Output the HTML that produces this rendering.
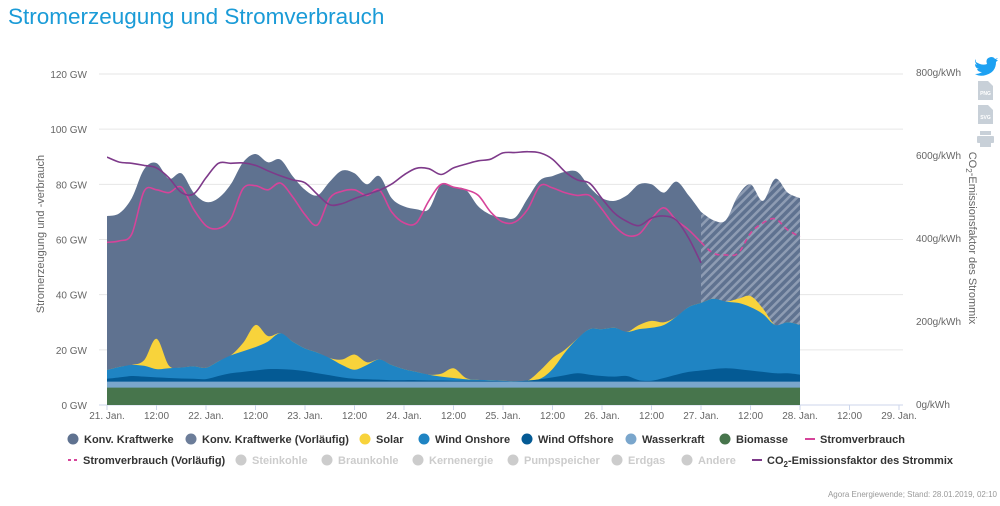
<!DOCTYPE html>
<html><head><meta charset="utf-8">
<style>
body{margin:0;background:#fff;font-family:"Liberation Sans",sans-serif;}
#wrap{position:relative;width:1000px;height:506px;overflow:hidden;}
svg text{font-family:"Liberation Sans",sans-serif;}
</style></head>
<body>
<div id="wrap">
<svg id="chart" width="1000" height="506" viewBox="0 0 1000 506">
<defs>
<pattern id="hatch" patternUnits="userSpaceOnUse" width="6" height="6" patternTransform="rotate(45)">
<rect width="6" height="6" fill="#5f7290"/>
<rect width="2.5" height="6" fill="#8e9cb3"/>
</pattern>
<clipPath id="plotclip"><rect x="107" y="60" width="800" height="345"/></clipPath>
</defs>
<text x="8" y="24" font-size="22.5" fill="#1a9bd7">Stromerzeugung und Stromverbrauch</text>
<g id="grid"></g>
<g id="areas" clip-path="url(#plotclip)"></g>
<g id="lines" clip-path="url(#plotclip)"></g>
<g id="axes"></g>
<text transform="translate(44,234) rotate(-90)" text-anchor="middle" font-size="11" fill="#666">Stromerzeugung und -verbrauch</text>
<text transform="translate(969,238) rotate(90)" text-anchor="middle" font-size="11" fill="#666">CO<tspan font-size="8" dy="3">2</tspan><tspan dy="-3">-Emissionsfaktor des Strommix</tspan></text>
<g><path d="M976 62 q6 4 11 2 q-2 -6 4 -7 q3 0 4 2 l3 -1 l-2 2 l2 0 l-2 2 q0 10 -10 13 q-6 2 -11 -1 q4 0 7 -2 q-4 0 -5 -3 l2 0 q-4 -1 -4 -5 l2 1 q-3 -3 -1 -6z" fill="#1da1f2"/></g>
<g><path d="M978 81 h10 l5 5 v14 h-15z" fill="#c8d0d8"/><text x="985.5" y="95" font-size="5" font-weight="bold" fill="#fff" text-anchor="middle">PNG</text></g>
<g><path d="M978 105 h10 l5 5 v14 h-15z" fill="#c8d0d8"/><text x="985.5" y="119" font-size="5" font-weight="bold" fill="#fff" text-anchor="middle">SVG</text></g>
<g><rect x="980" y="131" width="11" height="4" fill="#c8d0d8"/><rect x="977" y="136" width="17" height="7" rx="1" fill="#c8d0d8"/><rect x="980" y="142" width="11" height="5" fill="#c8d0d8"/></g>
<g id="legend"></g>
<text x="997" y="497" text-anchor="end" font-size="8" fill="#999">Agora Energiewende; Stand: 28.01.2019, 02:10</text>
</svg>
</div>
<script>
// ---- data (3-hour steps from 21. Jan 00:00) ----
const biomasse = [6.3,6.3,6.3,6.3,6.3,6.3,6.3,6.3,6.3,6.3,6.3,6.3,6.3,6.3,6.3,6.3,6.3,6.3,6.3,6.3,6.3,6.3,6.3,6.3,6.3,6.3,6.3,6.3,6.3,6.3,6.3,6.3,6.3,6.3,6.3,6.3,6.3,6.3,6.3,6.3,6.3,6.3,6.3,6.3,6.3,6.3,6.3,6.3,6.3,6.3,6.3,6.3,6.3,6.3,6.3,6.3,6.3];
const wasserkraft = [2.2,2.2,2.2,2.2,2.2,2.2,2.2,2.2,2.2,2.2,2.2,2.2,2.2,2.2,2.2,2.2,2.2,2.2,2.2,2.2,2.2,2.2,2.2,2.2,2.2,2.2,2.2,2.2,2.2,2.2,2.2,2.2,2.2,2.2,2.2,2.2,2.2,2.2,2.2,2.2,2.2,2.2,2.2,2.2,2.2,2.2,2.2,2.2,2.2,2.2,2.2,2.2,2.2,2.2,2.2,2.2,2.2];
const windOffshore = [1,1.5,2,1.8,1.5,1.3,1.1,1,0.9,2,3,3.5,4,4.5,4.5,4.3,3.8,3,2.3,1.5,1,0.8,0.7,0.5,0.5,0.5,0.4,0.4,0.3,0.3,0.3,0.2,0.1,0.1,0.3,0.8,1.5,2.3,3,2.5,2,1.8,2,0.5,0.3,1.3,2.5,3.5,4,4.5,4.8,4.5,4,3.5,3,3,2.5];
const windOnshore = [3.2,3.8,4,3.9,3,3.5,4,4.5,4.1,5.3,6.5,7.5,8.5,10,13,10.2,8.2,7.5,6.2,4.5,3.3,5.2,7.3,5.5,4,3,2.1,1.4,1,0.5,0.3,0.3,0.2,0,0.1,0.2,3,8.2,12.5,16.5,17,17.7,16,18.5,19.2,19.2,21,23.5,24.5,25.5,24.2,24,23,21,17.5,18.5,18];
const solar = [0,0,0,2,11,1,0,0,0,0,0,3,8,2,0,0,0,0,0,2,5.5,1,0,0,0,0,0,1,3.5,0.5,0,0,0,0,0,3,4,1,0,0,0,0,0,1.5,2.5,1,0,0,0,0,0,1.5,4,2,0,0,0];
const konvKraftwerke = [55.8,55.7,60.5,69.3,63.7,67.7,70.4,63,60.1,59.2,62,65.5,62,63,63,60,57.5,57,64,68.5,65.7,64.5,66.5,60.5,59,59,60,68.7,65.7,68.2,62.9,60,59.2,59.4,66.1,69,66,64.5,60.5,51.5,47.5,46,49.5,51,49.5,47,49,40.5,33];
const konvVorlaeufig = [33,28.5,29.5,37.5,40.5,39,53,47,46]; // from index 48
const stromverbrauch = [59,59.5,62,77.5,78,77,79,71,65,64,67.5,78.5,79.5,78,80.5,75.5,69,65.3,75,77.5,78,76,78,70,66,66,74,80,79,78,76,70,66.3,66.4,71,79.5,78.7,77,76,76,71,65,61.5,62,67.5,71.5,67,63.5,59];
const stromverbrauchVorl = [59,55,54.4,55,62.3,66,67.5,63.5,61]; // from index 48
const co2 = [595,583,580,575,569,545,510,506,545,580,580,581,575,562,550,540,533,505,480,483,495,505,515,530,552,568,567,553,569,578,586,590,605,606,608,605,590,560,540,532,495,460,440,430,448,453,443,400,340];
const yTicks = [0,20,40,60,80,100,120];
const y2Ticks = [0,200,400,600,800];
const xTickLabels = ["21. Jan.","12:00","22. Jan.","12:00","23. Jan.","12:00","24. Jan.","12:00","25. Jan.","12:00","26. Jan.","12:00","27. Jan.","12:00","28. Jan.","12:00","29. Jan."];

// ---- scales ----
const X0=107, DAYW=99, STEP=DAYW/8;
const xs = i => X0 + i*STEP;
const ys = v => 405 - v*(331/120);
const y2s = v => 404 - v*(332/800);
const NS='http://www.w3.org/2000/svg';
function mk(tag, attrs, parent){const e=document.createElementNS(NS,tag);for(const k in attrs)e.setAttribute(k,attrs[k]);parent.appendChild(e);return e;}
function smooth(pts){
  let d='M'+pts[0][0].toFixed(1)+','+pts[0][1].toFixed(1);
  for(let i=0;i<pts.length-1;i++){
    const p0=pts[Math.max(0,i-1)],p1=pts[i],p2=pts[i+1],p3=pts[Math.min(pts.length-1,i+2)];
    const c1=[p1[0]+(p2[0]-p0[0])/6,p1[1]+(p2[1]-p0[1])/6];
    const c2=[p2[0]-(p3[0]-p1[0])/6,p2[1]-(p3[1]-p1[1])/6];
    d+=' C'+c1[0].toFixed(1)+','+c1[1].toFixed(1)+' '+c2[0].toFixed(1)+','+c2[1].toFixed(1)+' '+p2[0].toFixed(1)+','+p2[1].toFixed(1);
  }
  return d;
}
function areaPath(vals, offset){
  const pts=vals.map((v,i)=>[xs(i+offset),ys(v)]);
  return smooth(pts)+' L'+pts[pts.length-1][0].toFixed(1)+','+ys(0)+' L'+pts[0][0].toFixed(1)+','+ys(0)+' Z';
}

const grid=document.getElementById('grid'), axes=document.getElementById('axes');
yTicks.forEach(t=>{
  const g=mk('line',{x1:99,x2:903,y1:ys(t),y2:ys(t),stroke:t===0?'#ccd6eb':'#e6e6e6','stroke-width':1},grid);
  
  
  const l=mk('text',{x:87,y:ys(t)+4,'text-anchor':'end','font-size':10,fill:'#666'},axes);
  l.textContent=t+' GW';
  
  
});
y2Ticks.forEach(t=>{
  const l=mk('text',{x:916,y:y2s(t)+4,'font-size':10,fill:'#666'},axes);
  l.textContent=t+'g/kWh';
  
  
});
xTickLabels.forEach((s,i)=>{
  const x=X0+i*DAYW/2;
  const tk=mk('line',{x1:x,x2:x,y1:405,y2:410,stroke:'#ccd6eb'},axes);
  
  
  const l=mk('text',{x:x,y:419,'text-anchor':'middle','font-size':10,fill:'#666'},axes);
  l.textContent=s;
  
  
});

// cumulative stacks
const N=windOnshore.length;
const cBio=[],cWas=[],cOff=[],cOn=[],cSol=[],cTot=[];
for(let i=0;i<N;i++){
  cBio.push(biomasse[i]);cWas.push(cBio[i]+wasserkraft[i]);cOff.push(cWas[i]+windOffshore[i]);
  cOn.push(cOff[i]+windOnshore[i]);cSol.push(cOn[i]+solar[i]);
  cTot.push(cSol[i]+(i<konvKraftwerke.length?konvKraftwerke[i]:konvVorlaeufig[i-48]));
}
const areas=document.getElementById('areas');
const kSolid=cTot.slice(0,49);
let a=mk('path',{d:areaPath(kSolid,0),fill:'#5f7290'},areas);


a=mk('path',{d:areaPath(cTot.slice(48),48),fill:'url(#hatch)'},areas);


a=mk('path',{d:areaPath(cSol,0),fill:'#f8d33b'},areas);


a=mk('path',{d:areaPath(cOn,0),fill:'#1f84c3'},areas);


a=mk('path',{d:areaPath(cOff,0),fill:'#045a94'},areas);


a=mk('path',{d:areaPath(cWas,0),fill:'#7aa6cc'},areas);


a=mk('path',{d:areaPath(cBio,0),fill:'#47754c'},areas);



const lines=document.getElementById('lines');
let ln=mk('path',{d:smooth(stromverbrauch.map((v,i)=>[xs(i),ys(v)])),fill:'none',stroke:'#d6449a','stroke-width':1.6},lines);


ln=mk('path',{d:smooth(stromverbrauchVorl.map((v,i)=>[xs(i+48),ys(v)])),fill:'none',stroke:'#d6449a','stroke-width':1.6,'stroke-dasharray':'5,4'},lines);


ln=mk('path',{d:smooth(co2.map((v,i)=>[xs(i),y2s(v)])),fill:'none',stroke:'#7e3a8a','stroke-width':1.6},lines);



// legend
const legend=document.getElementById('legend');
const items=[
 [73,443,'c','#5f7290','Konv. Kraftwerke',false],[191,443,'c','#6c7d99','Konv. Kraftwerke (Vorläufig)',false],
 [365,443,'c','#f8d33b','Solar',false],[424,443,'c','#1f84c3','Wind Onshore',false],
 [527,443,'c','#045a94','Wind Offshore',false],[631,443,'c','#7aa6cc','Wasserkraft',false],
 [725,443,'c','#47754c','Biomasse',false],[810,443,'l','#d6449a','Stromverbrauch',false],
 [73,464,'d','#d6449a','Stromverbrauch (Vorläufig)',false],[241,464,'c','#ccc','Steinkohle',true],
 [327,464,'c','#ccc','Braunkohle',true],[418,464,'c','#ccc','Kernenergie',true],
 [513,464,'c','#ccc','Pumpspeicher',true],[617,464,'c','#ccc','Erdgas',true],
 [687,464,'c','#ccc','Andere',true],[757,464,'l','#7e3a8a','CO2',false]
];
items.forEach(it=>{
  const g=mk('g',{},legend);
  
  
  const [x,y,t,c,label,off]=it;
  if(t==='c') mk('circle',{cx:x,cy:y-4,r:5.5,fill:c},g);
  else if(t==='l') mk('line',{x1:x-5,x2:x+5,y1:y-4,y2:y-4,stroke:c,'stroke-width':2},g);
  else mk('line',{x1:x-5,x2:x+5,y1:y-4,y2:y-4,stroke:c,'stroke-width':2,'stroke-dasharray':'3,3'},g);
  const tx=mk('text',{x:x+(t==='c'?11:10),y:y,'font-size':11,'font-weight':'bold',fill:off?'#ccc':'#333'},g);
  if(label==='CO2'){tx.innerHTML='CO<tspan font-size="8" dy="3">2</tspan><tspan dy="-3">-Emissionsfaktor des Strommix</tspan>';}
  else tx.textContent=label;
});
</script>
</body></html>
